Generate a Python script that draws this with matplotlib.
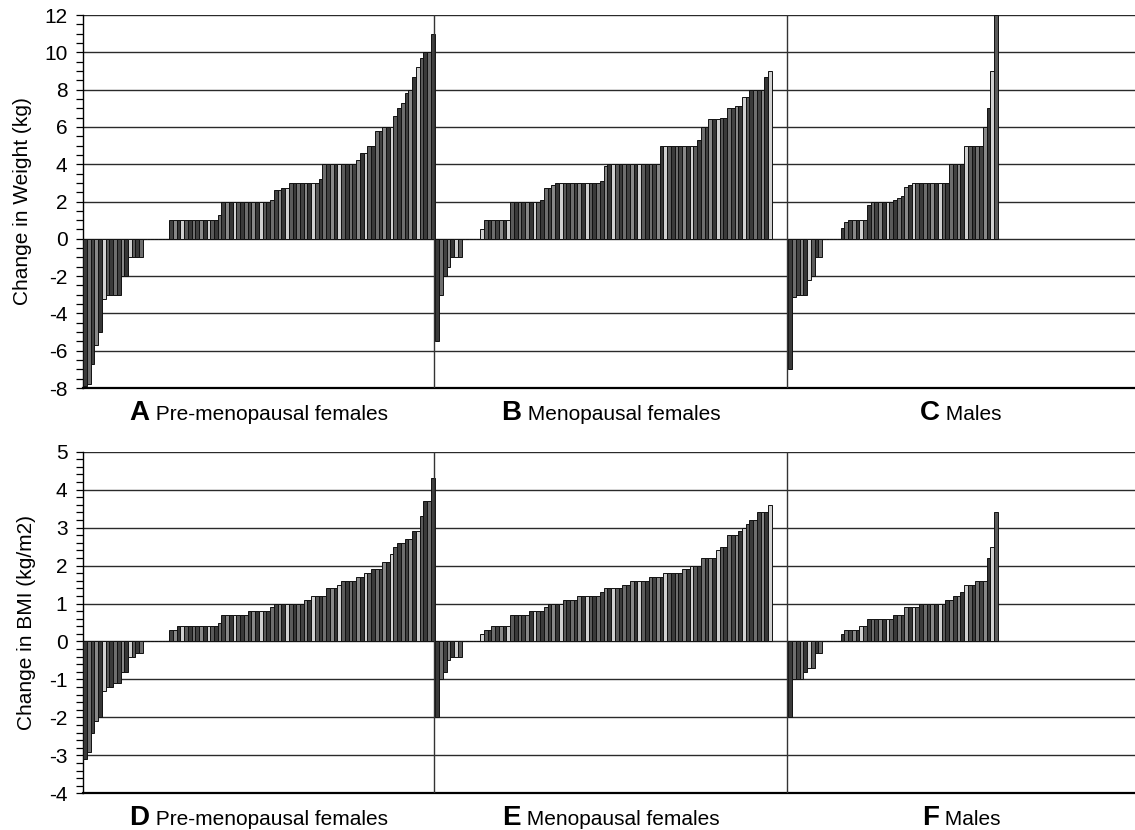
import matplotlib
matplotlib.use("Agg")
import matplotlib.pyplot as plt
from matplotlib.ticker import MultipleLocator
from matplotlib.offsetbox import TextArea, HPacker, AnnotationBbox

plt.rcParams['font.family'] = ['Liberation Sans', 'DejaVu Sans']
plt.rcParams['axes.unicode_minus'] = False

# Change in weight (kg), sorted per subject
weight_pre = [-7.9, -7.8, -6.7, -5.7, -5.0, -3.2, -3.0, -3.0, -3.0, -3.0, -2.0, -2.0,
              -1.0, -1.0, -1.0, -1.0,
              0, 0, 0, 0, 0, 0, 0,
              1, 1, 1, 1, 1, 1, 1, 1, 1, 1, 1, 1, 1, 1.3,
              2, 2, 2, 2, 2, 2, 2, 2, 2, 2, 2, 2, 2, 2.1, 2.6, 2.6, 2.7, 2.7,
              3, 3, 3, 3, 3, 3, 3, 3, 3.2,
              4, 4, 4, 4, 4, 4, 4, 4, 4, 4.2, 4.6, 4.6, 5, 5, 5.8, 5.8, 6, 6, 6,
              6.6, 7.0, 7.3, 7.8, 8.0, 8.7, 9.2, 9.7, 10, 10, 11]
weight_meno = [-5.5, -3.0, -2.0, -1.5, -1.0, -1.0, -1.0,
               0, 0, 0, 0, 0,
               0.5, 1, 1, 1, 1, 1, 1, 1,
               2, 2, 2, 2, 2, 2, 2, 2, 2.1, 2.7, 2.7, 2.9,
               3, 3, 3, 3, 3, 3, 3, 3, 3, 3, 3, 3, 3.1, 3.9,
               4, 4, 4, 4, 4, 4, 4, 4, 4, 4, 4, 4, 4, 4,
               5, 5, 5, 5, 5, 5, 5, 5, 5, 5, 5.3, 6, 6, 6.4, 6.4, 6.4, 6.5, 6.5,
               7, 7, 7.1, 7.1, 7.6, 7.6, 8, 8, 8, 8, 8.7, 9.0]
weight_male = [-7.0, -3.1, -3.0, -3.0, -3.0, -2.2, -2.0, -1.0, -1.0,
               0, 0, 0, 0, 0,
               0.6, 0.9, 1, 1, 1, 1, 1, 1.8, 2, 2, 2, 2, 2, 2, 2.1, 2.2, 2.3, 2.8, 2.9,
               3, 3, 3, 3, 3, 3, 3, 3, 3, 3, 4, 4, 4, 4, 5, 5, 5, 5, 5, 6, 7, 9, 12]

# Change in BMI (kg/m2)
bmi_pre = [-3.1, -2.9, -2.4, -2.1, -2.0, -1.3, -1.2, -1.2, -1.1, -1.1, -0.8, -0.8,
           -0.4, -0.4, -0.3, -0.3,
           0, 0, 0, 0, 0, 0, 0,
           0.3, 0.3, 0.4, 0.4, 0.4, 0.4, 0.4, 0.4, 0.4, 0.4, 0.4, 0.4, 0.4, 0.5,
           0.7, 0.7, 0.7, 0.7, 0.7, 0.7, 0.7, 0.8, 0.8, 0.8, 0.8, 0.8, 0.8, 0.9,
           1.0, 1.0, 1.0, 1.0, 1.0, 1.0, 1.0, 1.0, 1.1, 1.1, 1.2, 1.2, 1.2, 1.2,
           1.4, 1.4, 1.4, 1.5, 1.6, 1.6, 1.6, 1.6, 1.7, 1.7, 1.8, 1.8, 1.9, 1.9, 1.9,
           2.1, 2.1, 2.3, 2.5, 2.6, 2.6, 2.7, 2.7, 2.9, 2.9, 3.3, 3.7, 3.7, 4.3]
bmi_meno = [-2.0, -1.0, -0.8, -0.5, -0.4, -0.4, -0.4,
            0, 0, 0, 0, 0,
            0.2, 0.3, 0.3, 0.4, 0.4, 0.4, 0.4, 0.4, 0.7, 0.7, 0.7, 0.7, 0.7,
            0.8, 0.8, 0.8, 0.8, 0.9, 1.0, 1.0, 1.0, 1.0, 1.1, 1.1, 1.1, 1.1,
            1.2, 1.2, 1.2, 1.2, 1.2, 1.2, 1.3, 1.4, 1.4, 1.4, 1.4, 1.4, 1.5, 1.5,
            1.6, 1.6, 1.6, 1.6, 1.6, 1.7, 1.7, 1.7, 1.7, 1.8, 1.8, 1.8, 1.8, 1.8,
            1.9, 1.9, 2.0, 2.0, 2.0, 2.2, 2.2, 2.2, 2.2, 2.4, 2.5, 2.5,
            2.8, 2.8, 2.8, 2.9, 3.0, 3.1, 3.2, 3.2, 3.4, 3.4, 3.4, 3.6]
bmi_male = [-2.0, -1.0, -1.0, -1.0, -0.8, -0.7, -0.7, -0.3, -0.3,
            0, 0, 0, 0, 0,
            0.2, 0.3, 0.3, 0.3, 0.3, 0.4, 0.4, 0.6, 0.6, 0.6, 0.6, 0.6, 0.6, 0.6,
            0.7, 0.7, 0.7, 0.9, 0.9, 0.9, 0.9, 1.0, 1.0, 1.0, 1.0, 1.0, 1.0, 1.0,
            1.1, 1.1, 1.2, 1.2, 1.3, 1.5, 1.5, 1.5, 1.6, 1.6, 1.6, 2.2, 2.5, 3.4]

letters_top = ['A', 'B', 'C']
letters_bottom = ['D', 'E', 'F']
group_names = ['Pre-menopausal females', 'Menopausal females', 'Males']

# layout (in bar-slot units)
group_starts = [0.1, 94.3, 188.7]
dividers = [94.05, 188.4]
x_max = 281.4
shades = ['#3a3a3a', '#6e6e6e', '#424242', '#888888', '#363636', '#d0d0d0', '#5a5a5a']


def draw_panel(ax, groups, ylim, major, minor, ylabel, letters):
    for start, vals in zip(group_starts, groups):
        xs = [start + i for i in range(len(vals))]
        cols = [shades[i % len(shades)] for i in range(len(vals))]
        ax.bar(xs, vals, width=1.0, align='edge', color=cols,
               edgecolor='#111111', linewidth=0.7, zorder=3)
    ax.set_xlim(0, x_max)
    ax.set_ylim(*ylim)
    ax.yaxis.set_major_locator(MultipleLocator(major))
    ax.yaxis.set_minor_locator(MultipleLocator(minor))
    ax.grid(axis='y', which='major', color='#2a2a2a', linewidth=1.0, zorder=1)
    for d in dividers:
        ax.axvline(d, color='#333333', linewidth=1.0, zorder=4)
    ax.set_xticks([])
    ax.spines['top'].set_visible(False)
    ax.spines['right'].set_visible(False)
    ax.spines['bottom'].set_linewidth(1.6)
    ax.spines['left'].set_linewidth(1.0)
    ax.tick_params(axis='y', which='both', direction='out', length=5,
                   width=0.9, labelsize=15, pad=6)
    ax.set_ylabel(ylabel, fontsize=15, labelpad=9)

    edges = [0] + dividers + [x_max]
    for k, letter in enumerate(letters):
        cx = (edges[k] + edges[k + 1]) / 2
        box = HPacker(children=[
            TextArea(letter, textprops=dict(fontsize=20, fontweight='bold')),
            TextArea(' ' + group_names[k], textprops=dict(fontsize=15))],
            align='baseline', pad=0, sep=0)
        ab = AnnotationBbox(box, (cx, 0), xycoords=ax.get_xaxis_transform(),
                            xybox=(0, -18), boxcoords='offset points',
                            frameon=False, box_alignment=(0.5, 0.5),
                            annotation_clip=False)
        ax.add_artist(ab)


fig = plt.figure(figsize=(11.35, 8.3), dpi=100)
ax1 = fig.add_axes([0.0729, 0.5325, 0.9271, 0.4494])
ax2 = fig.add_axes([0.0729, 0.0442, 0.9271, 0.4116])

draw_panel(ax1, [weight_pre, weight_meno, weight_male], (-8, 12), 2, 0.5,
           'Change in Weight (kg)', letters_top)
draw_panel(ax2, [bmi_pre, bmi_meno, bmi_male], (-4, 5), 1, 0.2,
           'Change in BMI (kg/m2)', letters_bottom)

fig.savefig('out.png', dpi=100)
